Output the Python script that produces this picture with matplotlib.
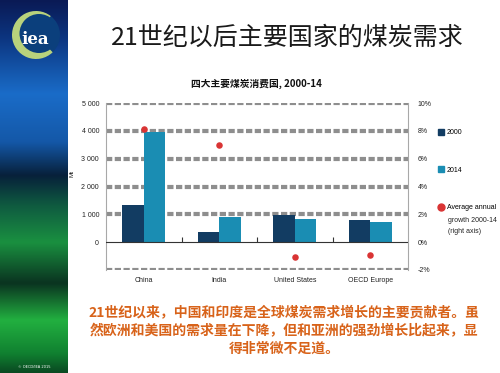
import numpy as np
import matplotlib
matplotlib.use("Agg")
import matplotlib.pyplot as plt
from matplotlib import font_manager
from matplotlib.colors import LinearSegmentedColormap
from matplotlib.lines import Line2D
from matplotlib.patches import Circle, Wedge

# ---------------- data ----------------
countries = ["China", "India", "United States", "OECD Europe"]
demand_2000 = [1350, 350, 970, 810]      # Mt
demand_2014 = [3950, 900, 835, 725]      # Mt
growth = [8.1, 7.0, -1.1, -0.9]          # % average annual growth 2000-14
left_ticks = [-1000, 0, 1000, 2000, 3000, 4000, 5000]
left_labels = ["", "0", "1 000", "2 000", "3 000", "4 000", "5 000"]
right_ticks = [-2, 0, 2, 4, 6, 8, 10]
right_labels = ["-2%", "0%", "2%", "4%", "6%", "8%", "10%"]

title = "21世纪以后主要国家的煤炭需求"
chart_title = "四大主要煤炭消费国, 2000-14"
note = ("21世纪以来，中国和印度是全球煤炭需求增长的主要贡献者。虽\n"
        "然欧洲和美国的需求量在下降，但和亚洲的强劲增长比起来，显\n"
        "得非常微不足道。")

# ---------------- fonts ----------------
names = {f.name for f in font_manager.fontManager.ttflist}
if "Liberation Sans Narrow" in names:
    NARROW = "Liberation Sans Narrow"
    FS = 5.8
else:
    NARROW = "Liberation Sans"
    FS = 5.0
CJK = ["Noto Sans CJK SC", "DejaVu Sans"]
plt.rcParams["font.family"] = [NARROW, "DejaVu Sans"]

C2000 = "#123c62"
C2014 = "#1a8db3"
CDOT = "#d93434"
GRID = "#8e8e8e"

fig = plt.figure(figsize=(5.0, 3.73), dpi=100)
fig.patch.set_facecolor("white")

# ---------------- side bar ----------------
sb = fig.add_axes([0, 0, 68 / 500, 1])
stops = [(0.00, "#0a1a55"), (0.10, "#0c3580"), (0.25, "#1a6cc8"), (0.38, "#1458a8"),
         (0.47, "#07203a"), (0.55, "#0f5a40"), (0.65, "#1a9040"), (0.76, "#0a3320"),
         (0.86, "#22b040"), (0.95, "#108030"), (1.00, "#0a4a22")]
cmap = LinearSegmentedColormap.from_list("side", stops)
grad = np.linspace(0, 1, 256).reshape(-1, 1)
sb.imshow(grad, cmap=cmap, aspect="auto", extent=(0, 68, 373, 0), interpolation="bicubic")
sb.set_xlim(0, 68)
sb.set_ylim(373, 0)
sb.axis("off")
sb.add_patch(Wedge((36, 35), 24, -52, 46, facecolor="#0b3f7c", edgecolor="none"))
sb.add_patch(Wedge((36, 35), 24, 46, 308, facecolor="#b8d27c", edgecolor="none"))
sb.add_patch(Circle((39, 33.5), 19.5, facecolor="#0b3f7c", edgecolor="none"))
sb.text(35, 40, "iea", color="white", fontsize=12, fontweight="bold",
        family="DejaVu Serif", ha="center", va="center")
sb.text(34, 367, "© OECD/IEA 2015", color="white", fontsize=2.6,
        family="DejaVu Sans", ha="center", va="center")

# ---------------- titles ----------------
fig.text(287 / 500, 1 - 38 / 373, title, fontsize=18, family=CJK,
         ha="center", va="center", color="#1a1a1a")
fig.text(256 / 500, 1 - 84 / 373, chart_title, fontsize=7, fontweight="bold",
         family=CJK, ha="center", va="center", color="#111111")
fig.text(284 / 500, 1 - 331 / 373, note, fontsize=10, fontweight="bold",
         family=CJK, ha="center", va="center", color="#d8631a",
         linespacing=1.3, multialignment="center")

# ---------------- chart ----------------
ax = fig.add_axes([106 / 500, 1 - 270 / 373, 302 / 500, 167 / 373])
x = np.arange(len(countries))
w = 0.285
ax.bar(x - w / 2, demand_2000, width=w, color=C2000, zorder=2)
ax.bar(x + w / 2, demand_2014, width=w, color=C2014, zorder=2)
ax.set_xlim(-0.5, len(countries) - 0.5)
ax.set_ylim(-1000, 5000)
ax.set_yticks(left_ticks)
ax.set_yticklabels(left_labels)
ax.set_xticks(x)
ax.set_xticklabels(countries)
ax.tick_params(axis="both", length=0, labelsize=FS, colors="#222222")
ax.tick_params(axis="x", pad=5)
ax.tick_params(axis="y", pad=5)
ax.set_axisbelow(True)
ax.yaxis.grid(True, color=GRID, linewidth=3.0, linestyle=(0, (1.5, 0.6)))
ax.yaxis.get_gridlines()[1].set_visible(False)
ax.axhline(0, color="#333333", linewidth=0.8, zorder=3)
for s in ("top", "bottom"):
    ax.spines[s].set_visible(False)
for s in ("left", "right"):
    ax.spines[s].set_color("#a8a8a8")
    ax.spines[s].set_linewidth(0.8)
ax.set_ylabel("Mt", fontsize=FS - 0.5, color="#222222")
ax.yaxis.set_label_coords(-31 / 302, 0.58)

sec = ax.secondary_xaxis(1 / 6)
sec.set_xticks(x[:-1] + 0.5)
sec.set_xticklabels([])
sec.tick_params(direction="in", length=3.5, width=0.8, color="#333333")
for s in sec.spines.values():
    s.set_visible(False)

ax2 = ax.twinx()
ax2.set_ylim(-2, 10)
ax2.scatter(x, growth, s=22, color=CDOT, zorder=4, linewidths=0)
ax2.set_yticks(right_ticks)
ax2.set_yticklabels(right_labels)
ax2.tick_params(axis="y", length=0, labelsize=FS, colors="#222222", pad=7)
for s in ax2.spines.values():
    s.set_visible(False)

# ---------------- legend ----------------
handles = [Line2D([], [], marker="s", linestyle="none", color=C2000, markersize=4),
           Line2D([], [], marker="s", linestyle="none", color=C2014, markersize=4),
           Line2D([], [], marker="o", linestyle="none", color=CDOT, markersize=5)]
fig.legend(handles, ["2000", "2014", "Average annual"], loc="upper left",
           bbox_to_anchor=(438 / 500, 1 - 129 / 373), frameon=False,
           fontsize=FS, handlelength=0.9, handletextpad=0.4,
           labelspacing=4.4, borderpad=0, borderaxespad=0)
fig.text(447.5 / 500, 1 - 217 / 373, "growth 2000-14\n(right axis)",
         fontsize=FS, ha="left", va="top", linespacing=1.7, color="#222222")

fig.savefig("out.png", dpi=100)
